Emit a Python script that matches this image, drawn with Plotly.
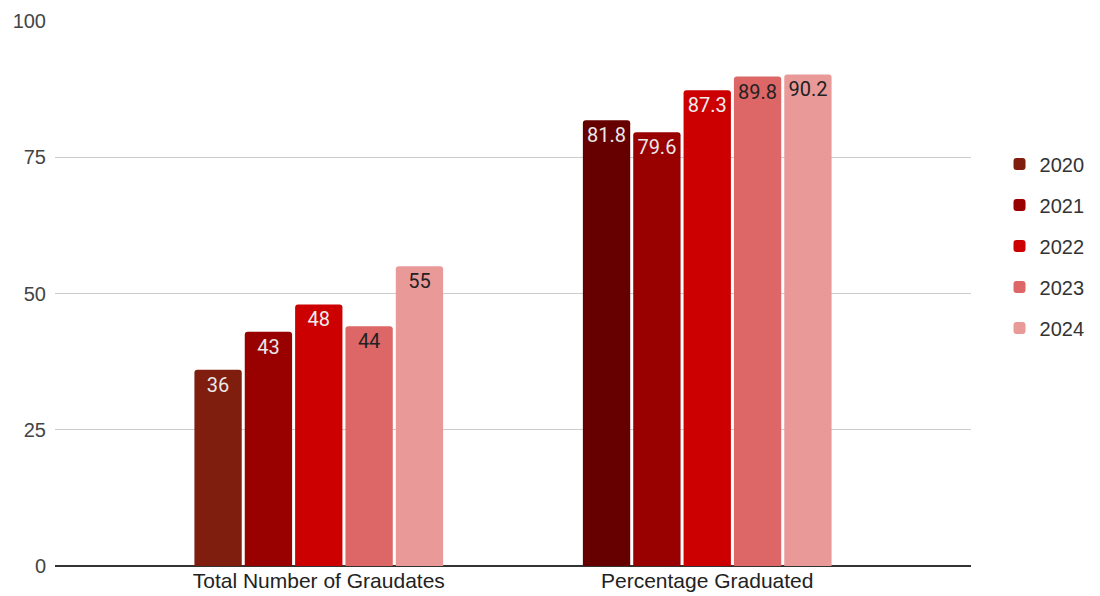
import plotly.graph_objects as go

categories = ["Total Number of Graudates", "Percentage Graduated"]
years = ["2020", "2021", "2022", "2023", "2024"]
values = {
    "2020": [36, 81.8],
    "2021": [43, 79.6],
    "2022": [48, 87.3],
    "2023": [44, 89.8],
    "2024": [55, 90.2],
}
colors = {
    "2020": ["#7f1d0e", "#660000"],
    "2021": ["#990000", "#990000"],
    "2022": ["#cc0000", "#cc0000"],
    "2023": ["#dd6666", "#dd6666"],
    "2024": ["#ea9999", "#ea9999"],
}
text_colors = {
    "2020": "#e8e8e8",
    "2021": "#e8e8e8",
    "2022": "#eeeeee",
    "2023": "#222222",
    "2024": "#222222",
}

fig = go.Figure()
for y in years:
    fig.add_trace(go.Bar(
        name=y,
        x=[0, 1],
        y=values[y],
        text=[f"{v:g}" for v in values[y]],
        textposition="inside",
        insidetextanchor="end",
        textangle=0,
        constraintext="none",
        textfont=dict(family="Roboto", size=20, color=text_colors[y]),
        marker=dict(color=colors[y], line=dict(width=0), cornerradius=3),
        legendgroup=y,
        hoverinfo="skip",
    ))

fig.update_layout(
    width=1100, height=596,
    margin=dict(l=55, r=128, t=21, b=30),
    plot_bgcolor="white", paper_bgcolor="white",
    barmode="group", bargap=0.352, bargroupgap=0.06,
    font=dict(family="Liberation Sans, Arial", size=16, color="#444"),
    legend=dict(
        x=1.03, y=0.587, xanchor="left", yanchor="middle",
        font=dict(family="Liberation Sans, Arial", size=20, color="#333"),
        tracegroupgap=12,
    ),
)
fig.update_xaxes(
    tickmode="array", tickvals=[0, 1], ticktext=categories,
    range=[-0.679, 1.679], showgrid=False, showline=False, zeroline=False,
    tickfont=dict(family="Liberation Sans, Arial", size=21, color="#222"),
    ticks="", automargin=False, ticklabelstandoff=0,
)
fig.update_yaxes(
    range=[0, 100], tickvals=[0, 25, 50, 75, 100],
    gridcolor="#cccccc", gridwidth=1,
    zeroline=True, zerolinecolor="#333333", zerolinewidth=1.5,
    tickfont=dict(family="Liberation Sans, Arial", size=20, color="#444"),
    ticks="", ticklabelstandoff=8, automargin=False,
)

fig.write_html("out.html")
